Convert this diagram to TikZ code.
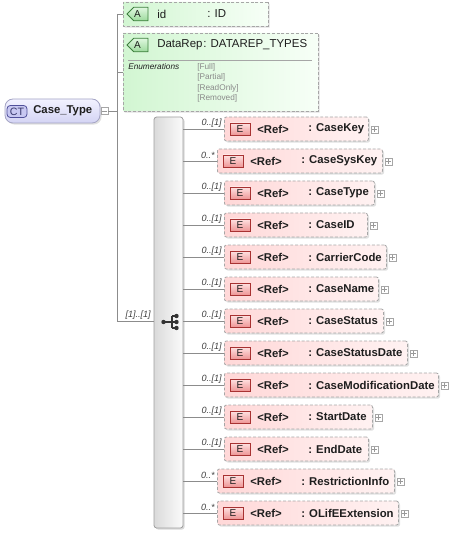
\documentclass[tikz,border=0pt]{standalone}
\usepackage{fontspec}
\setmainfont{Liberation Sans}
\usetikzlibrary{shadows,shapes.misc}
\definecolor{dashgray}{HTML}{A6A6A6}
\definecolor{conngray}{HTML}{8C8C8C}
\definecolor{epinkL}{HTML}{FFD8D8}
\definecolor{epinkR}{HTML}{FFF2F2}
\definecolor{ebadgeT}{HTML}{FFE2E2}
\definecolor{ebadgeB}{HTML}{EE9696}
\definecolor{ebadgeD}{HTML}{A83232}
\definecolor{agreenL}{HTML}{D2F6D2}
\definecolor{agreenR}{HTML}{F7FFF7}
\definecolor{abadgeT}{HTML}{E0F8E0}
\definecolor{abadgeB}{HTML}{9CDA9C}
\definecolor{abadgeD}{HTML}{3C7F3C}
\definecolor{ctfillT}{HTML}{F2F2FF}
\definecolor{ctfillB}{HTML}{D4D4F4}
\definecolor{ctborder}{HTML}{A4A4C4}
\definecolor{ctbadge}{HTML}{C8C8F2}
\definecolor{ctbadgeD}{HTML}{50509A}
\definecolor{seqL}{HTML}{DADADA}
\definecolor{seqR}{HTML}{FBFBFB}
\definecolor{txt}{HTML}{1E1E1E}
\definecolor{enumgray}{HTML}{8A8A8A}
\tikzset{
  lbl/.style={inner sep=0pt, anchor=west, text=txt, font=\bfseries\fontsize{8.5}{10}\selectfont},
  albl/.style={inner sep=0pt, anchor=west, text=txt, font=\fontsize{8.6}{10}\selectfont},
  mult/.style={inner sep=0pt, anchor=east, text=txt!85, font=\itshape\fontsize{6.8}{8}\selectfont},
  enumlbl/.style={inner sep=0pt, anchor=west, text=enumgray, font=\fontsize{6.2}{7}\selectfont},
  conn/.style={draw=conngray, line width=0.6pt},
  dashbox/.style={draw=dashgray, line width=0.6pt, dash pattern=on 2.2pt off 1.4pt},
  elem/.style={dashbox, rounded corners=1.5pt, left color=epinkL, right color=epinkR,
    minimum height=18pt, inner sep=0pt,
    drop shadow={shadow xshift=1.2pt, shadow yshift=-1.2pt, opacity=0.12, fill=black}},
  ebadge/.style={draw=ebadgeD, line width=0.6pt, top color=ebadgeT, bottom color=ebadgeB,
    minimum width=15pt, minimum height=9pt, inner sep=0pt, text=txt,
    font=\fontsize{7.5}{8}\selectfont},
  attr/.style={dashbox, chamfered rectangle, chamfered rectangle corners={north west,south west},
    chamfered rectangle xsep=3pt, chamfered rectangle ysep=3pt, inner sep=0pt,
    left color=agreenL, right color=agreenR,
    drop shadow={shadow xshift=1.2pt, shadow yshift=-1.2pt, opacity=0.12, fill=black}},
  abadge/.style={draw=abadgeD, line width=0.6pt, chamfered rectangle,
    chamfered rectangle corners={north west,south west},
    chamfered rectangle xsep=3pt, chamfered rectangle ysep=4.5pt,
    top color=abadgeT, bottom color=abadgeB,
    minimum width=15.75pt, minimum height=9pt, inner sep=0pt, text=txt,
    font=\fontsize{7.5}{8}\selectfont},
  plusbox/.style={draw=gray!70, fill=white, line width=0.5pt, minimum size=5.25pt, inner sep=0pt},
  plusline/.style={draw=gray!80, line width=0.5pt},
  dot/.style={circle, fill=black!80, inner sep=0pt, minimum size=3.3pt}
}
\begin{document}
\begin{tikzpicture}[x=0.75pt,y=-0.75pt]
\useasboundingbox (0,0) rectangle (449,534);

% complex type node
\node[draw=ctborder, line width=0.6pt, rounded corners=6pt, top color=ctfillT, bottom color=ctfillB,
  minimum width=71.25pt, minimum height=18pt, inner sep=0pt,
  drop shadow={shadow xshift=1.2pt, shadow yshift=-1.2pt, opacity=0.12, fill=black}] (ct) at (52.5,111) {};
\node[draw=ctbadgeD, line width=0.6pt, rounded corners=2.5pt, fill=ctbadge, minimum width=15pt,
  minimum height=9pt, inner sep=0pt, text=ctbadgeD!70!black, font=\fontsize{8}{9}\selectfont] (ctb) at (17,111.5) {CT};
\node[lbl] (ctn) at (33,111) {Case\_Type};
\node[plusbox] (ctm) at (104.5,111) {};
\draw[plusline] ([xshift=1pt]ctm.west) -- ([xshift=-1pt]ctm.east);

% trunk
\coordinate (t1) at (117,14);
\coordinate (t2) at (117,72);
\coordinate (t3) at (117,321);
\draw[conn] (ctm.east) -- (ctm.east -| t1);
\draw[conn] (t1) -- (t3);

% attribute id
\node[attr, minimum width=108.75pt, minimum height=18pt] (aid) at (195.5,14) {};
\node[abadge] (aidb) at (137.5,14) {A};
\node[albl] (aidn) at (157,14) {id};
\node[albl] (aidt) at (207,14) {: ID};
\draw[conn] (t1) -- (aid.west);

% attribute DataRep
\node[attr, minimum width=146.25pt, minimum height=58.5pt] (adr) at (220.5,72) {};
\node[abadge] (adrb) at (137.5,45) {A};
\node[albl] (adrn) at (157,45) {DataRep};
\node[albl] (adrt) at (203,45) {: DATAREP\_TYPES};
\draw[draw=gray!70, line width=0.5pt] (128,60) -- (312,60);
\node[enumlbl, text=txt, font=\itshape\fontsize{6.2}{7}\selectfont] (enh) at (128,67) {Enumerations};
\node[enumlbl] (en1) at (197,67) {[Full]};
\node[enumlbl] (en2) at (197,77.5) {[Partial]};
\node[enumlbl] (en3) at (197,88) {[ReadOnly]};
\node[enumlbl] (en4) at (197,98.5) {[Removed]};
\draw[conn] (t2) -- (t2 -| adr.west);

% sequence compositor
\node[draw=gray!75, line width=0.6pt, rounded corners=2pt, left color=seqL, right color=seqR,
  minimum width=21.75pt, minimum height=308.25pt, inner sep=0pt,
  drop shadow={shadow xshift=1.2pt, shadow yshift=-1.2pt, opacity=0.15, fill=black}] (seq) at (168.5,322.5) {};
\draw[conn] (t3) -- (t3 -| seq.west);
\node[mult] (seqm) at (151,315) {[1]..[1]};
% sequence icon
\node[dot] (sq0) at (163.5,322) {};
\node[dot] (sq1) at (176.5,316) {};
\node[dot] (sq2) at (176.5,322) {};
\node[dot] (sq3) at (176.5,328) {};
\draw[black!80, line width=0.8pt] (sq0.center) -- (sq2.center) (172,316) -- (172,328)
  (172,316) -- (sq1.center) (172,328) -- (sq3.center);

% elements
\foreach \i/\nm/\rx/\st in {0/CaseKey/368/0, 1/CaseSysKey/382/1, 2/CaseType/374/0, 3/CaseID/367/0,
  4/CarrierCode/386/0, 5/CaseName/378/0, 6/CaseStatus/383/0, 7/CaseStatusDate/407/0,
  8/CaseModificationDate/438/0, 9/StartDate/372/0, 10/EndDate/368/0, 11/RestrictionInfo/394/1,
  12/OLifEExtension/398/1}{
  \pgfmathsetmacro\yc{129+32*\i}
  \pgfmathsetmacro\lx{\st==1 ? 217 : 224}
  \pgfmathsetmacro\bw{(\rx-\lx)*0.75}
  \node[elem, minimum width=\bw pt, anchor=west] (e\i) at (\lx,\yc) {};
  \node[ebadge] (eb\i) at (\lx+16,\yc) {E};
  \node[lbl] (er\i) at (\lx+33,\yc) {<Ref>};
  \node[lbl] (en\i) at (\lx+84,\yc) {: \nm};
  \node[mult] (em\i) at (\lx-2,\yc-6) {\ifnum\st=1 0..*\else 0..[1]\fi};
  \node[plusbox] (ep\i) at (\rx+6.5,\yc+0.5) {};
  \draw[plusline] ([xshift=1pt]ep\i.west) -- ([xshift=-1pt]ep\i.east);
  \draw[plusline] ([yshift=-1pt]ep\i.north) -- ([yshift=1pt]ep\i.south);
  \draw[conn] (seq.east |- e\i.west) -- (e\i.west);
}
\end{tikzpicture}
\end{document}
